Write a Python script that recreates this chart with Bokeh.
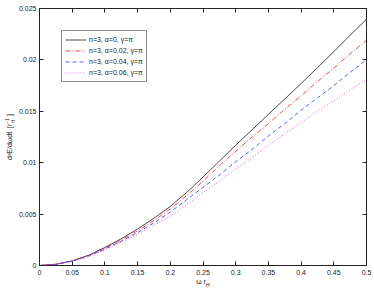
from bokeh.plotting import figure
from bokeh.models import FixedTicker, LinearAxis, Legend, LegendItem, Range1d
from bokeh.embed import file_html
from bokeh.resources import INLINE

# ---- data ----
omega = [0.0, 0.025, 0.05, 0.075, 0.1, 0.125, 0.15, 0.175, 0.2, 0.225, 0.25,
         0.275, 0.3, 0.325, 0.35, 0.375, 0.4, 0.425, 0.45, 0.475, 0.5]
alpha0 = [0.0, 0.00012, 0.00045, 0.00100, 0.00175, 0.00260, 0.00355, 0.00460, 0.00575,
          0.00710, 0.00860, 0.01015, 0.01170, 0.01320, 0.01470, 0.01620, 0.01770,
          0.01925, 0.02080, 0.02240, 0.02395]
alpha002 = [0.0, 0.00012, 0.00044, 0.00096, 0.00168, 0.00248, 0.00337, 0.00438, 0.0055,
            0.0068, 0.0082, 0.0097, 0.0111, 0.0125, 0.0138, 0.0152, 0.0165, 0.0179,
            0.0192, 0.0206, 0.0219]
alpha004 = [0.0, 0.00011, 0.00042, 0.00092, 0.00160, 0.00237, 0.00320, 0.00415, 0.0052,
            0.0064, 0.0076, 0.0088, 0.0101, 0.0113, 0.0126, 0.0138, 0.0151, 0.0163,
            0.0175, 0.0188, 0.0200]
alpha006 = [0.0, 0.00011, 0.00040, 0.00088, 0.00152, 0.00225, 0.00303, 0.00390, 0.0048,
            0.0059, 0.0071, 0.0082, 0.0094, 0.0105, 0.0117, 0.0128, 0.0139, 0.0150,
            0.0160, 0.0171, 0.0181]
legend_labels = ["n=3, α=0, γ=π", "n=3, α=0.02, γ=π", "n=3, α=0.04, γ=π", "n=3, α=0.06, γ=π"]
x_ticks = [0, 0.05, 0.1, 0.15, 0.2, 0.25, 0.3, 0.35, 0.4, 0.45, 0.5]
x_tick_labels = ["0", "0.05", "0.1", "0.15", "0.2", "0.25", "0.3", "0.35", "0.4", "0.45", "0.5"]
y_ticks = [0, 0.005, 0.01, 0.015, 0.02, 0.025]
y_tick_labels = ["0", "0.005", "0.01", "0.015", "0.02", "0.025"]

FONT = "Liberation Sans"
NB = "\u00a0"
INK = "#222222"
W, H = 372, 290
BL, BR, BT, BB = 39, 6, 8, 25

p = figure(width=W, height=H, x_range=Range1d(0, 0.5), y_range=Range1d(0, 0.025),
           output_backend="svg", toolbar_location=None,
           min_border_left=BL, min_border_right=BR, min_border_top=BT, min_border_bottom=BB)
p.grid.visible = False
p.outline_line_color = INK
p.outline_line_width = 1


def style_axis(ax, ticks, labels, show_labels=True, standoff=4):
    ax.ticker = FixedTicker(ticks=ticks)
    ax.major_label_overrides = {t: l for t, l in zip(ticks, labels)}
    ax.major_tick_in = 4
    ax.major_tick_out = 0
    ax.minor_tick_line_color = None
    ax.axis_line_color = INK
    ax.major_tick_line_color = INK
    ax.major_label_text_font = FONT
    ax.axis_label_text_font = FONT
    ax.axis_label_text_font_size = "7px"
    ax.axis_label_text_font_style = "normal"
    ax.axis_label_text_color = INK
    if show_labels:
        ax.major_label_text_font_size = "7px"
        ax.major_label_text_color = INK
        ax.major_label_standoff = standoff
    else:
        ax.major_label_text_font_size = "1px"
        ax.major_label_text_color = None
        ax.major_label_standoff = 0


def text_axis(label, size, standoff):
    """An axis with no line and no ticks, used only to carry one piece of label text."""
    ax = LinearAxis(ticker=FixedTicker(ticks=[]), axis_line_color=None,
                    major_tick_line_color=None, minor_tick_line_color=None,
                    major_tick_out=0, major_tick_in=0, major_label_standoff=0,
                    major_label_text_font_size="1px", major_label_text_color=None,
                    axis_label=label, axis_label_text_font=FONT,
                    axis_label_text_font_size=size, axis_label_text_font_style="normal",
                    axis_label_text_color=INK, axis_label_standoff=standoff)
    return ax


# main axes with tick labels
style_axis(p.xaxis[0], x_ticks, x_tick_labels, standoff=4)
style_axis(p.yaxis[0], y_ticks, y_tick_labels, standoff=3)
p.xaxis[0].axis_label = "ω" + NB + "r" + NB * 2
p.xaxis[0].axis_label_standoff = 0
# subscript H of the y label sits next to the tick labels
p.yaxis[0].axis_label = NB * 22 + "H"
p.yaxis[0].axis_label_text_font_size = "5px"
p.yaxis[0].axis_label_standoff = 0

# box ticks on top and right
top = LinearAxis()
right = LinearAxis()
style_axis(top, x_ticks, x_tick_labels, False)
style_axis(right, y_ticks, y_tick_labels, False)
p.add_layout(top, "above")
p.add_layout(right, "right")

# y label main text and superscript, x label subscript
p.add_layout(text_axis("d²E/dωdt" + NB * 2 + "[r" + NB * 4 + "]", "7px", -6), "left")
p.add_layout(text_axis(NB * 23 + "−1", "5px", -7), "left")
p.add_layout(text_axis(NB * 7 + "H", "5px", -6), "below")

r0 = p.line(omega, alpha0, line_color="#333333", line_width=0.9)
r1 = p.line(omega, alpha002, line_color="#ff3030", line_width=0.9, line_dash="5 2 1 2")
r2 = p.line(omega, alpha004, line_color="#3050ff", line_width=0.9, line_dash="4 3")
r3 = p.line(omega, alpha006, line_color="#e040ff", line_width=0.9, line_dash="1 2")

legend = Legend(items=[LegendItem(label=l, renderers=[r]) for l, r in zip(legend_labels, [r0, r1, r2, r3])],
                location=(22, 183), label_text_font=FONT, label_text_font_size="7px",
                label_text_color=INK,
                glyph_width=21, glyph_height=11, label_height=11, label_standoff=3,
                spacing=0, padding=3, margin=0,
                border_line_color=INK, border_line_width=1, background_fill_alpha=1)
p.add_layout(legend)

open("out.html", "w").write(file_html(p, INLINE))
